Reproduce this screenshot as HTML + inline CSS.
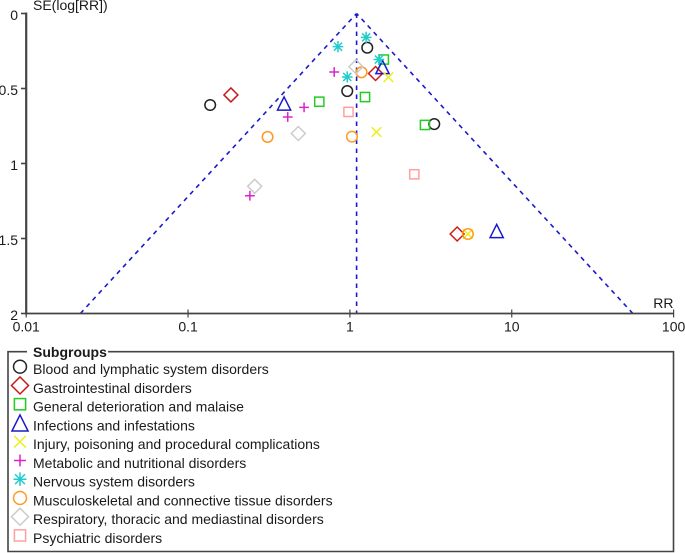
<!DOCTYPE html>
<html>
<head>
<meta charset="utf-8">
<title>Funnel plot</title>
<style>
html,body{margin:0;padding:0;background:#fff;width:685px;height:553px;overflow:hidden}
svg{display:block;filter:blur(0.3px)}
text{font-family:"Liberation Sans",sans-serif;font-size:14px;fill:#1a1a1a}
</style>
</head>
<body>
<svg id="chart" xmlns="http://www.w3.org/2000/svg" width="685" height="553" viewBox="0 0 685 553"></svg>
<script>
var xTicks = [0.01, 0.1, 1, 10, 100];
var xTickLabels = ["0.01", "0.1", "1", "10", "100"];
var yTicks = [0, 0.5, 1, 1.5, 2];
var yTickLabels = ["0", "0.5", "1", "1.5", "2"];
var pooledRR = 1.1;
var funnelZ = 1.965;
var subgroupNames = ["Blood and lymphatic system disorders","Gastrointestinal disorders","General deterioration and malaise","Infections and infestations","Injury, poisoning and procedural complications","Metabolic and nutritional disorders","Nervous system disorders","Musculoskeletal and connective tissue disorders","Respiratory, thoracic and mediastinal disorders","Psychiatric disorders"];
var bloodRR = [0.137, 1.28, 0.963, 3.32];
var bloodSE = [0.61, 0.228, 0.517, 0.737];
var gastroRR = [0.184, 1.44, 4.6];
var gastroSE = [0.543, 0.4, 1.47];
var generalRR = [0.647, 1.62, 1.24, 2.91];
var generalSE = [0.588, 0.307, 0.557, 0.743];
var infectionsRR = [0.392, 1.59, 8.07];
var infectionsSE = [0.6, 0.357, 1.45];
var injuryRR = [1.73, 1.46, 5.36];
var injurySE = [0.425, 0.79, 1.47];
var metabolicRR = [0.241, 0.413, 0.521, 0.8];
var metabolicSE = [1.215, 0.69, 0.626, 0.39];
var nervousRR = [0.844, 1.26, 1.51, 0.963];
var nervousSE = [0.221, 0.159, 0.307, 0.423];
var muscRR = [0.31, 1.18, 1.03, 5.36];
var muscSE = [0.823, 0.392, 0.821, 1.47];
var respRR = [0.48, 0.258, 1.09];
var respSE = [0.8, 1.152, 0.355];
var psychRR = [0.98, 2.5];
var psychSE = [0.656, 1.072];

var seriesRR = [bloodRR, gastroRR, generalRR, infectionsRR, injuryRR, metabolicRR, nervousRR, muscRR, respRR, psychRR];
var seriesSE = [bloodSE, gastroSE, generalSE, infectionsSE, injurySE, metabolicSE, nervousSE, muscSE, respSE, psychSE];
var seriesShapes = ["circle","diamond","square","triangle","cross","plus","star","circle","diamond","square"];
var seriesColors = ["#222222","#cc1a1a","#22cc22","#1a1acc","#eeee22","#dd22cc","#22cccc","#ff9922","#cccccc","#ffa0a0"];

var svg = document.getElementById('chart');
var NS = 'http://www.w3.org/2000/svg';
var AXIS = '#444444';

function xScale(rr){ return 349.9 + 161.85 * Math.log10(rr); }
function yScale(se){ return 13.5 + 150 * se; }

function make(tag, attrs, parent){
  var el = document.createElementNS(NS, tag);
  for (var k in attrs) el.setAttribute(k, attrs[k]);
  (parent || svg).appendChild(el);
  return el;
}
function label(str, x, y, anchor, parent){
  var t = make('text', {x:x, y:y, 'text-anchor':anchor || 'start'}, parent);
  t.textContent = str;
  return t;
}
function drawMarker(parent, shape, cx, cy, color, s){
  var a = {fill:'none', stroke:color, 'stroke-width':1.5};
  var p, d;
  if (shape === 'circle') { a.cx = cx; a.cy = cy; a.r = 5.3 * s; make('circle', a, parent); return; }
  if (shape === 'square') { d = 4.6 * s; a.x = cx - d; a.y = cy - d; a.width = 2 * d; a.height = 2 * d; make('rect', a, parent); return; }
  if (shape === 'diamond') { d = 7 * s; a.points = [cx,cy-d,cx+d,cy,cx,cy+d,cx-d,cy].join(' '); make('polygon', a, parent); return; }
  if (shape === 'triangle') { d = 6.6 * s; a.points = [cx,cy-d,cx+d,cy+d,cx-d,cy+d].join(' '); a['stroke-linejoin'] = 'miter'; make('polygon', a, parent); return; }
  if (shape === 'cross') { d = 4.8 * s; p = 'M'+(cx-d)+' '+(cy-d)+'L'+(cx+d)+' '+(cy+d)+'M'+(cx-d)+' '+(cy+d)+'L'+(cx+d)+' '+(cy-d); }
  if (shape === 'plus') { d = 4.9 * s; p = 'M'+(cx-d)+' '+cy+'L'+(cx+d)+' '+cy+'M'+cx+' '+(cy-d)+'L'+cx+' '+(cy+d); }
  if (shape === 'star') { d = 5.6 * s; var e = d * 0.95; var f = d * 0.72;
    p = 'M'+cx+' '+(cy-d)+'L'+cx+' '+(cy+d)+'M'+(cx-e)+' '+cy+'L'+(cx+e)+' '+cy+'M'+(cx-f)+' '+(cy-f)+'L'+(cx+f)+' '+(cy+f)+'M'+(cx-f)+' '+(cy+f)+'L'+(cx+f)+' '+(cy-f); }
  a.d = p;
  make('path', a, parent);
}

var x0 = xScale(xTicks[0]);
var x1 = xScale(xTicks[xTicks.length - 1]);
var yTop = yScale(yTicks[0]);
var yBot = yScale(yTicks[yTicks.length - 1]);

/* funnel guide lines */
var funnelGroup = make('g', {});


var spread = funnelZ * yTicks[yTicks.length - 1] / Math.LN10;
var leftX = xScale(pooledRR / Math.pow(10, spread));
var rightX = xScale(pooledRR * Math.pow(10, spread));
var apexX = xScale(pooledRR);
var dashStyle = {fill:'none', stroke:'#1a1acc', 'stroke-width':1.6, 'stroke-dasharray':'4.5 4.5'};
var funnelLeft = make('path', Object.assign({d:'M'+leftX+' '+yBot+'L'+apexX+' '+yTop}, dashStyle), funnelGroup);


var funnelRight = make('path', Object.assign({d:'M'+rightX+' '+yBot+'L'+apexX+' '+yTop}, dashStyle), funnelGroup);


var funnelCentre = make('path', Object.assign({d:'M'+apexX+' '+yTop+'L'+apexX+' '+yBot}, dashStyle), funnelGroup);



/* axes */
var yAxis = make('g', {});


make('line', {x1:x0, y1:yTop - 1, x2:x0, y2:yBot + 1, stroke:AXIS, 'stroke-width':2.2}, yAxis);
yTicks.forEach(function(v, i){
  var y = yScale(v);
  make('line', {x1:21, y1:y, x2:x0, y2:y, stroke:AXIS, 'stroke-width':1.6}, yAxis);
  var t = label(yTickLabels[i], 18, y + 6.5, 'end', yAxis);
  
  
});
var yTitle = label('SE(log[RR])', 33, 10, 'start');



var xAxis = make('g', {});


make('line', {x1:x0 - 1, y1:yBot, x2:x1, y2:yBot, stroke:AXIS, 'stroke-width':1.8}, xAxis);
xTicks.forEach(function(v, i){
  var x = xScale(v);
  make('line', {x1:x, y1:yBot - 4, x2:x, y2:yBot + 4, stroke:AXIS, 'stroke-width':1.2}, xAxis);
  var t = label(xTickLabels[i], x, 331.5, 'middle', xAxis);
  
  
});
var xTitle = label('RR', 673.5, 308, 'end');



/* points */
seriesRR.forEach(function(rrs, si){
  var g = make('g', {});
  
  
  rrs.forEach(function(rr, i){
    drawMarker(g, seriesShapes[si], xScale(rr), yScale(seriesSE[si][i]), seriesColors[si], 1);
  });
});

/* legend */
var legend = make('g', {});


make('path', {d:'M27 351.7H8V551.5H673.5V351.7H108', fill:'none', stroke:AXIS, 'stroke-width':1.6}, legend);
var legendTitle = label('Subgroups', 33, 357, 'start', legend);
legendTitle.setAttribute('font-weight', 'bold');


subgroupNames.forEach(function(name, i){
  var y = 369 + i * 18.75;
  var entry = make('g', {}, legend);
  
  
  drawMarker(entry, seriesShapes[i], 20, y - 2.3, seriesColors[i], 1.22);
  label(name, 33, y + 5, 'start', entry);
});
</script>
</body>
</html>
